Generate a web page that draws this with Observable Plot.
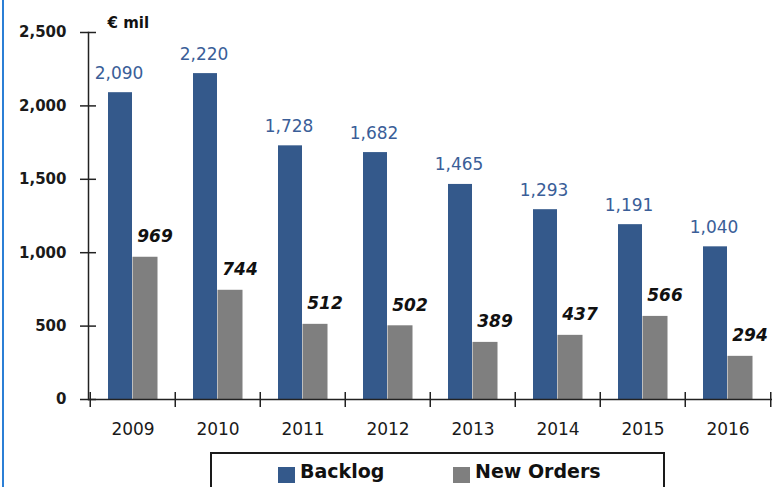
<!DOCTYPE html>
<html>
<head>
<meta charset="utf-8">
<script src="https://cdn.jsdelivr.net/npm/d3@7"></script>
<script src="https://cdn.jsdelivr.net/npm/@observablehq/plot@0.6"></script>
<style>
  html, body { margin: 0; padding: 0; background: #fff; }
  #wrap { position: relative; width: 775px; height: 487px; overflow: hidden; font-family: "DejaVu Sans", sans-serif; }
  #edge { position: absolute; left: 2px; top: 0; width: 2px; height: 487px; background: #2b7fd6; }
  #legend { position: absolute; left: 210px; top: 452px; width: 451px; height: 40px; border: 2px solid #1a1a1a; border-bottom: none; }
  .sw { position: absolute; top: 13px; width: 17px; height: 16px; }
  .lt { position: absolute; top: 6px; font-weight: bold; font-size: 19px; color: #111; white-space: nowrap; }
</style>
</head>
<body>
<div id="wrap">
  <div id="chart"></div>
  <div id="edge"></div>
  <div id="legend"></div>
</div>
<script>
const years = ["2009", "2010", "2011", "2012", "2013", "2014", "2015", "2016"];
const backlog = [2090, 2220, 1728, 1682, 1465, 1293, 1191, 1040];
const newOrders = [969, 744, 512, 502, 389, 437, 566, 294];
const seriesNames = ["Backlog", "New Orders"];
const seriesColors = ["#34598b", "#7f7f7f"];
const yTicks = [0, 500, 1000, 1500, 2000, 2500];
const unitLabel = "€ mil";

const backlogData = years.map((y, i) => ({year: y, value: backlog[i]}));
const ordersData = years.map((y, i) => ({year: y, value: newOrders[i]}));

const W = 775, H = 452, mL = 88, mR = 3, mT = 32, mB = 53;
const step = (W - mL - mR) / years.length;
const fmt = d3.format(",");

const chart = Plot.plot({
  width: W,
  height: H,
  marginLeft: mL,
  marginRight: mR,
  marginTop: mT,
  marginBottom: mB,
  style: {fontFamily: "DejaVu Sans, sans-serif", background: "#fff", color: "#1f1f1f"},
  x: {domain: years, padding: 0, label: null},
  y: {domain: [0, 2500], label: null},
  marks: [
    Plot.barY(backlogData, {x: "year", y: "value", fill: seriesColors[0], insetLeft: 18, insetRight: step - 42.5}),
    Plot.barY(ordersData, {x: "year", y: "value", fill: seriesColors[1], insetLeft: 42.5, insetRight: 17.5}),
    Plot.text(backlogData, {x: "year", y: "value", text: d => fmt(d.value), dx: -14, dy: -14, lineAnchor: "bottom", fill: "#3a5e98", fontSize: 17}),
    Plot.text(ordersData, {x: "year", y: "value", text: d => fmt(d.value), dx: 22, dy: -15, lineAnchor: "bottom", fill: "#111", fontSize: 17, fontWeight: "bold", fontStyle: "italic"}),
    Plot.axisY({ticks: yTicks, tickSize: 16, dx: 8, tickPadding: 14, tickFormat: fmt, fontSize: 15, fontWeight: "bold", strokeWidth: 1.5, stroke: "#222", fill: "#1a1a1a"}),
    Plot.axisX({tickSize: 0, tickPadding: 23, fontSize: 17, fill: "#1a1a1a"}),
    Plot.frame({anchor: "left", stroke: "#222", strokeWidth: 1.5}),
    Plot.ruleY([0], {stroke: "#222", strokeWidth: 1.5}),
    Plot.ruleX(years, {x: d => d, dx: -step / 2, y1: 0, y2: 0, insetTop: -7, insetBottom: -8, stroke: "#222", strokeWidth: 1.5}),
    Plot.ruleX(years.slice(-1), {x: d => d, dx: step / 2, y1: 0, y2: 0, insetTop: -7, insetBottom: -8, stroke: "#222", strokeWidth: 1.5}),
    Plot.text([unitLabel], {frameAnchor: "top-left", dx: 19, dy: -5, textAnchor: "start", lineAnchor: "bottom", fontSize: 15, fontWeight: "bold", fill: "#111"})
  ]
});
document.getElementById("chart").appendChild(chart);

const legend = document.getElementById("legend");
const legendPos = [[66, 88], [241, 263]];
seriesNames.forEach((name, i) => {
  const sw = document.createElement("div");
  sw.className = "sw";
  sw.style.left = legendPos[i][0] + "px";
  sw.style.background = seriesColors[i];
  legend.appendChild(sw);
  const t = document.createElement("div");
  t.className = "lt";
  t.style.left = legendPos[i][1] + "px";
  t.textContent = name;
  legend.appendChild(t);
});
</script>
</body>
</html>
